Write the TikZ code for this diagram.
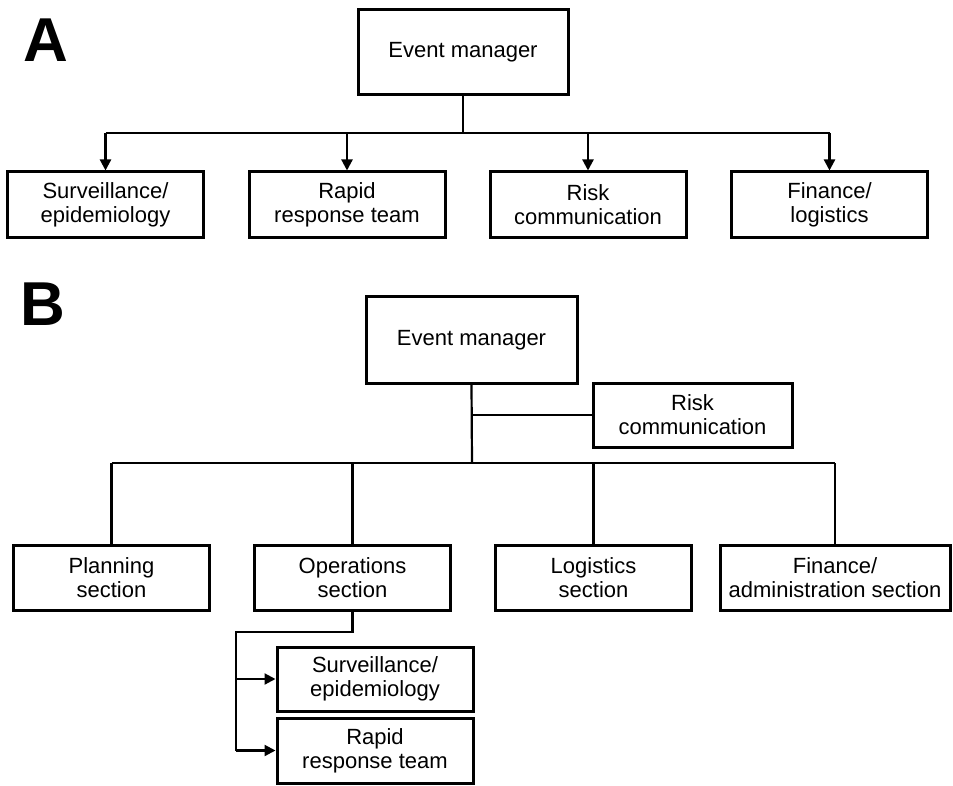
\documentclass[tikz,border=0pt]{standalone}
\usepackage{fontspec}
\setmainfont{Liberation Sans}
\usepackage{tikz}
\usetikzlibrary{positioning,arrows.meta}

\begin{document}
\begin{tikzpicture}[x=1pt,y=-1pt,on grid,
    box/.style={draw,line width=3pt,minimum width=196pt,minimum height=66pt,
                inner sep=0pt,align=center,font=\fontsize{22}{24}\selectfont},
    panel/.style={inner sep=0pt,font=\fontsize{62}{62}\selectfont\bfseries},
    line/.style={line width=2.2pt},
    arr/.style={line width=2.2pt,-{Triangle[length=11pt,width=11pt]}}]
   \useasboundingbox (0,0) rectangle (953,786);

   % panel A
   \node[panel] (labA) at (45.5,40) {A};
   \node[box,minimum width=210pt,minimum height=85pt] (emA) at (463,52.5) {Event manager};
   \node[box] (survA) at (105.5,205) {Surveillance/\\epidemiology};
   \node[box] (rapidA) [right=241.5pt of survA] {Rapid\\response team};
   \node[box] (riskA) [right=241pt of rapidA] {Risk\\communication};
   \node[box] (finA) [right=241.5pt of riskA] {Finance/\\logistics};
   \coordinate (busA) at (463,133);

   \draw[line] (emA.south) -- (busA);
   \draw[line] (survA.north |- busA) -- (finA.north |- busA);
   \foreach \n in {survA,rapidA,riskA,finA}
      \draw[arr] (\n.north |- busA) -- (\n.north);

   % panel B
   \node[panel] (labB) at (43,304) {B};
   \node[box,minimum width=211pt,minimum height=86pt] (emB) at (471.5,340) {Event manager};
   \node[box,minimum width=199pt,minimum height=64pt] (riskB) [below right=75pt and 221pt of emB] {Risk\\communication};
   \node[box,minimum height=65pt] (planB) at (111.5,577.5) {Planning\\section};
   \node[box,minimum height=65pt] (opsB) [right=241pt of planB] {Operations\\section};
   \node[box,minimum height=65pt] (logB) [right=241pt of opsB] {Logistics\\section};
   \node[box,minimum width=230pt,minimum height=65pt] (finB) [right=241.5pt of logB] {Finance/\\administration section};
   \node[box,minimum height=64pt] (survB) [below right=101.5pt and 22.5pt of opsB] {Surveillance/\\epidemiology};
   \node[box,minimum height=65pt] (rapidB) [below=71.5pt of survB] {Rapid\\response team};
   \coordinate (busB) at (472,463);
   \coordinate (elbow) at (236,632);

   \draw[line] (emB.south) -- (busB);
   \draw[line] (emB.south |- riskB.west) -- (riskB.west);
   \draw[line] (planB.north |- busB) -- (finB.north |- busB);
   \foreach \n in {planB,opsB,logB,finB}
      \draw[line] (\n.north |- busB) -- (\n.north);
   \draw[line] (opsB.south) |- (elbow) -- (elbow |- rapidB.west);
   \draw[arr] (elbow |- survB.west) -- (survB.west);
   \draw[arr] (elbow |- rapidB.west) -- (rapidB.west);
\end{tikzpicture}
\end{document}
